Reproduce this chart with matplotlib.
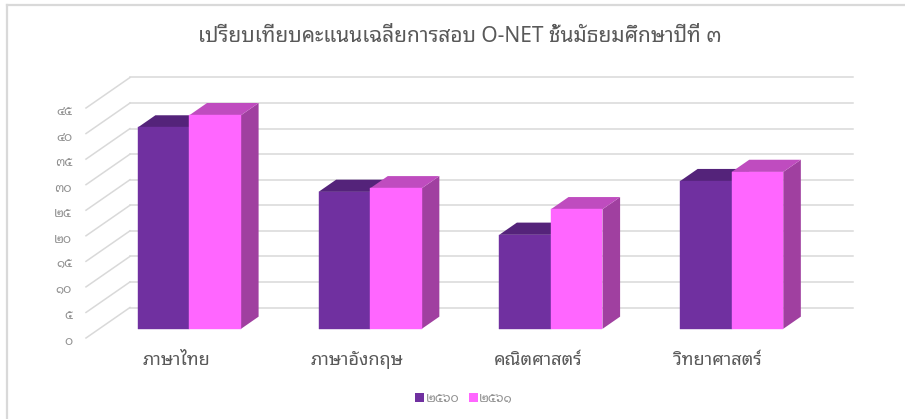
import matplotlib
matplotlib.use("Agg")
import matplotlib.pyplot as plt
from matplotlib import font_manager as fm
from matplotlib.patches import Patch, Polygon
from matplotlib.transforms import ScaledTranslation

# ข้อมูลคะแนนเฉลี่ย O-NET
subjects = ["ภาษาไทย", "ภาษาอังกฤษ", "คณิตศาสตร์", "วิทยาศาสตร์"]
years = ["๒๕๖๐", "๒๕๖๑"]
scores_2560 = [39.4, 26.8, 18.4, 28.9]
scores_2561 = [41.8, 27.5, 23.4, 30.7]
y_ticks = [0, 5, 10, 15, 20, 25, 30, 35, 40, 45]
y_tick_labels = ["๐", "๕", "๑๐", "๑๕", "๒๐", "๒๕", "๓๐", "๓๕", "๔๐", "๔๕"]
title = "เปรียบเทียบคะแนนเฉลี่ยการสอบ O-NET ชั้นมัธยมศึกษาปีที่ ๓"

W, H = 905, 419
GRID = "#d9d9d9"
TEXT = "#595959"

# depth of the 3d box, in pixels
DEPTH_X = 44
DEPTH_Y = 30.5

installed = {f.name for f in fm.fontManager.ttflist}
thai_font = next(n for n in ["Noto Sans Thai Looped", "Noto Sans Thai", "Sarabun", "Anuphan", "Athiti"] if n in installed)
plt.rcParams["font.family"] = [thai_font, "DejaVu Sans"]

fig = plt.figure(figsize=(W / 100, H / 100), dpi=100)
ax = fig.add_axes([86 / W, (H - 338) / H, 723 / W, 230 / H])
ax.set_xlim(0, len(subjects))
ax.set_ylim(0, 45)

dx = DEPTH_X * len(subjects) / 723
dy = DEPTH_Y * 45 / 230


def box(x0, x1, v, d0, d1, front, top, side):
    # bar drawn as three faces, d0 and d1 are depth fractions
    bl = (x0 + dx * d0, dy * d0)
    br = (x1 + dx * d0, dy * d0)
    tl = (x0 + dx * d0, v + dy * d0)
    tr = (x1 + dx * d0, v + dy * d0)
    bl2 = (x1 + dx * d1, dy * d1)
    tr2 = (x1 + dx * d1, v + dy * d1)
    tl2 = (x0 + dx * d1, v + dy * d1)
    ax.add_patch(Polygon([br, bl2, tr2, tr], fc=side, ec="none", clip_on=False, zorder=3))
    ax.add_patch(Polygon([tl, tr, tr2, tl2], fc=top, ec="none", clip_on=False, zorder=3))
    ax.add_patch(Polygon([bl, br, tr, tl], fc=front, ec=front, lw=0.3, clip_on=False, zorder=3))


# wall and side gridlines
for v in y_ticks:
    ax.plot([0, dx], [v, v + dy], color=GRID, lw=1.1, clip_on=False, zorder=1)
    ax.plot([dx, len(subjects) + dx], [v + dy, v + dy], color=GRID, lw=1.1, clip_on=False, zorder=1)

# bars: gap width leaves about 0.21 of the category on each side
for i in range(len(subjects)):
    box(i + 0.2135, i + 0.499, scores_2560[i], 0.3, 0.7, "#7030a0", "#54237a", "#54237a")
    box(i + 0.499, i + 0.7845, scores_2561[i], 0.3, 0.7, "#ff66ff", "#bf4cbf", "#a040a0")

ax.set_yticks(y_ticks)
ax.set_yticklabels(y_tick_labels, fontsize=9, color="#909090")
ax.set_xticks([i + 0.5 for i in range(len(subjects))])
ax.set_xticklabels(subjects, fontsize=13, color=TEXT)
ax.tick_params(axis="y", length=0, pad=10)
ax.tick_params(axis="x", length=0, pad=9)
down = ScaledTranslation(0, -2 / 100, fig.dpi_scale_trans)
for lab in ax.get_yticklabels():
    lab.set_transform(lab.get_transform() + down)
for s in ax.spines.values():
    s.set_visible(False)
ax.patch.set_visible(False)

fig.text(460 / W, 1 - 36 / H, title, fontsize=15, color=TEXT, ha="center", va="center")

handles = [Patch(fc="#7030a0", label=years[0]), Patch(fc="#ff66ff", label=years[1])]
fig.legend(handles=handles, loc="center", bbox_to_anchor=(464 / W, 1 - 398 / H), ncol=2, frameon=False,
           fontsize=9, labelcolor="#909090", handlelength=0.75, handleheight=0.75,
           handletextpad=0.1, columnspacing=0.75)

# page border around the chart
fig.add_artist(plt.Line2D([7 / W, 7 / W], [0, 1 - 5 / H], color="#d9d9d9", lw=1.6))
fig.add_artist(plt.Line2D([7 / W, 1], [1 - 5 / H, 1 - 5 / H], color="#d9d9d9", lw=1.6))

fig.savefig("out.png", dpi=100)
